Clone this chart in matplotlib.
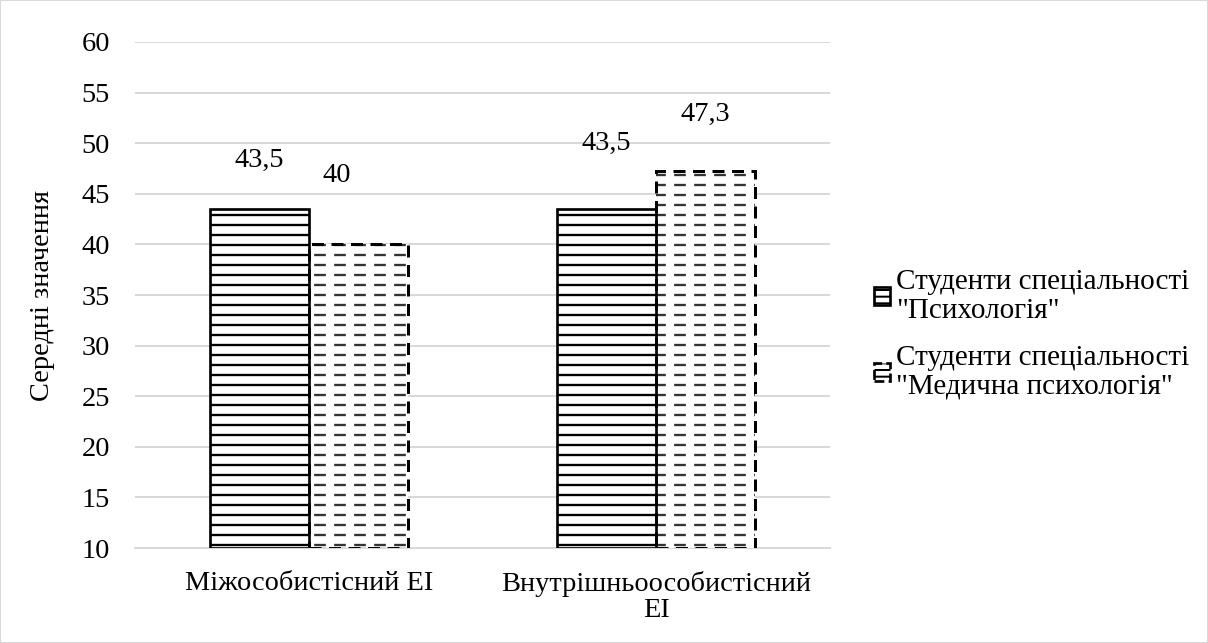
import matplotlib
matplotlib.use("Agg")
import matplotlib.pyplot as plt
import numpy as np

plt.rcParams['font.family'] = 'serif'
plt.rcParams['font.serif'] = ['Liberation Serif', 'DejaVu Serif']

# Дані
categories = ['Міжособистісний ЕІ', 'Внутрішньоособистісний\nЕІ']
psych = [43.5, 43.5]
med_psych = [40, 47.3]
series_names = ['Студенти спеціальності\n"Психологія"',
                'Студенти спеціальності\n"Медична психологія"']
# положення підписів (вручну зсунуті, як у вихідному графіку)
psych_label_y = [48.3, 50.0]
med_label_y = [46.8, 52.8]
med_label_dx = [-0.063, 0.0]

DPI = 120
fig = plt.figure(figsize=(1208 / DPI, 643 / DPI), dpi=DPI)
fig.patch.set_edgecolor('#d9d9d9')
fig.patch.set_linewidth(1.2)
ax = fig.add_axes([0.1118, 0.1477, 0.687 - 0.1118, 0.9347 - 0.1477])

x = np.arange(len(categories))
w = 0.285
base = 10
fs = 17

# серія 1: горизонтальне штрихування, суцільний контур
plt.rcParams['hatch.linewidth'] = 1.4
ax.bar(x - w / 2, np.array(psych) - base, w, bottom=base, color='white',
       edgecolor='black', hatch='--', linewidth=0, zorder=2)
# серія 2: пунктирне штрихування
ax.bar(x + w / 2, np.array(med_psych) - base, w, bottom=base, color='white',
       edgecolor='#333333', hatch='--', linewidth=0, zorder=2)
plt.rcParams['hatch.linewidth'] = 5.0
ax.bar(x + w / 2, np.array(med_psych) - base, w, bottom=base, color='none',
       edgecolor='white', hatch='|', linewidth=0, zorder=3)
# контури
ax.bar(x - w / 2, np.array(psych) - base, w, bottom=base, color='none',
       edgecolor='black', linewidth=1.6, zorder=4)
ax.bar(x + w / 2, np.array(med_psych) - base, w, bottom=base, color='none',
       edgecolor='black', linewidth=1.8, linestyle=(0, (4, 2.5)), zorder=4)

# легенда (проксі)
plt.rcParams['hatch.linewidth'] = 1.2
h1 = ax.bar([0], [0], color='white', edgecolor='black', hatch='---', linewidth=1.6, label=series_names[0])
h2 = ax.bar([0], [0], color='white', edgecolor='black', hatch='---', linewidth=1.6,
            linestyle='--', label=series_names[1])
leg = fig.legend(handles=[h1, h2], loc='center left', bbox_to_anchor=(0.702, 0.480),
                 frameon=False, fontsize=17.5, handlelength=0.55, handleheight=0.55,
                 handletextpad=0.2, labelspacing=0.73)
for t in leg.get_texts():
    t.set_linespacing(1.12)

for i in range(len(categories)):
    ax.text(x[i] - w / 2, psych_label_y[i], f'{psych[i]:g}'.replace('.', ','),
            ha='center', va='center', fontsize=fs)
    ax.text(x[i] + w / 2 + med_label_dx[i], med_label_y[i], f'{med_psych[i]:g}'.replace('.', ','),
            ha='center', va='center', fontsize=fs)

ax.set_xlim(-0.5, 1.5)
ax.set_ylim(10, 60)
ax.set_yticks(np.arange(10, 61, 5))
ax.set_xticks(x)
ax.set_xticklabels(categories, fontsize=fs, linespacing=1.05)
ax.tick_params(axis='y', labelsize=fs, length=0, pad=15)
ax.tick_params(axis='x', length=0, pad=14)
ax.grid(axis='y', color='#d9d9d9', linewidth=1.2, zorder=0)
ax.set_axisbelow(True)
for s in ['top', 'right', 'left']:
    ax.spines[s].set_visible(False)
ax.spines['bottom'].set_color('#d9d9d9')
ax.spines['bottom'].set_linewidth(1.2)
ax.set_ylabel('Середні значення', fontsize=fs, labelpad=16)

fig.savefig('out.png', dpi=DPI)
